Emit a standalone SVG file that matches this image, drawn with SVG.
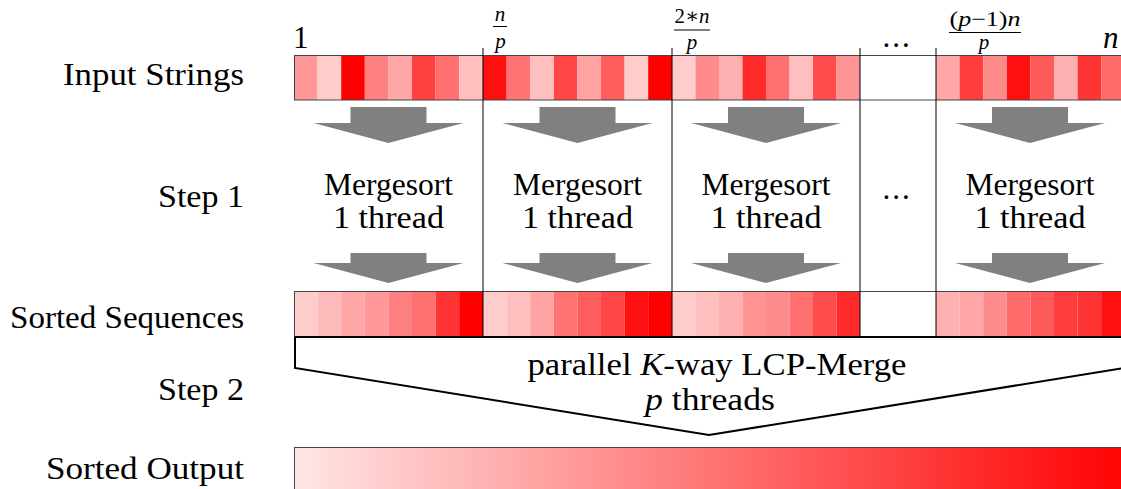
<svg xmlns="http://www.w3.org/2000/svg" width="1121" height="489" viewBox="0 0 1121 489">
<defs>
<style>
.lbl{font-family:'Liberation Serif','DejaVu Serif',serif;font-size:31px;fill:#000}
.mid{text-anchor:middle}
.end{text-anchor:end}
.it{font-style:italic}
.frac{font-family:'Liberation Serif','DejaVu Serif',serif;fill:#000;text-anchor:middle}
.sep{stroke:#000;stroke-width:1;fill:none}
.box{fill:none;stroke:#444;stroke-width:1}
.arr{fill:#808080}
</style>
<linearGradient id="grad" x1="0" y1="0" x2="1" y2="0">
<stop offset="0" stop-color="#ffe6e6"/>
<stop offset="1" stop-color="#ff0000"/>
</linearGradient>
<polygon id="arrTop" class="arr" points="-38,107 38,107 38,123 75,123 0,143 -75,123 -38,123"/>
<polygon id="arrBot" class="arr" points="-38,253 38,253 38,263 75,263 0,283 -75,263 -38,263"/>
</defs>
<rect width="1121" height="489" fill="#fff"/>

<g id="row-labels">
<text class="lbl end" x="244" y="85" textLength="181" lengthAdjust="spacingAndGlyphs">Input Strings</text>
<text class="lbl end" x="244" y="207" textLength="86" lengthAdjust="spacingAndGlyphs">Step 1</text>
<text class="lbl end" x="244" y="328" textLength="234" lengthAdjust="spacingAndGlyphs">Sorted Sequences</text>
<text class="lbl end" x="244" y="400" textLength="86" lengthAdjust="spacingAndGlyphs">Step 2</text>
<text class="lbl end" x="244" y="479" textLength="198" lengthAdjust="spacingAndGlyphs">Sorted Output</text>
</g>

<g id="index-labels">
<text class="lbl" x="293" y="48">1</text>
<g id="frac-n-p">
<text class="frac it" x="500" y="21" font-size="21">n</text>
<line x1="493" y1="26.5" x2="507" y2="26.5" stroke="#000" stroke-width="1"/>
<text class="frac it" x="500.5" y="48" font-size="21">p</text>
</g>
<g id="frac-2n-p">
<text class="frac" x="692" y="23" font-size="21" textLength="35" lengthAdjust="spacingAndGlyphs">2∗<tspan class="it">n</tspan></text>
<line x1="674" y1="30" x2="710" y2="30" stroke="#000" stroke-width="1"/>
<text class="frac it" x="692" y="49" font-size="21">p</text>
</g>
<text class="lbl mid" x="897" y="47" letter-spacing="2">...</text>
<g id="frac-p1n-p">
<text class="frac" x="985" y="26" font-size="21" textLength="71" lengthAdjust="spacingAndGlyphs">(<tspan class="it">p</tspan>−1)<tspan class="it">n</tspan></text>
<line x1="949" y1="32.5" x2="1021" y2="32.5" stroke="#000" stroke-width="1"/>
<text class="frac it" x="984" y="49" font-size="21">p</text>
</g>
<text class="lbl it" x="1103" y="48">n</text>
</g>

<g id="input-strings">
<g id="in-seg1">
<rect x="294" y="55" width="23.6" height="45" fill="#ff9999"/>
<rect x="317.6" y="55" width="23.6" height="45" fill="#ffcccc"/>
<rect x="341.2" y="55" width="23.6" height="45" fill="#ff0000"/>
<rect x="364.8" y="55" width="23.6" height="45" fill="#ff8080"/>
<rect x="388.4" y="55" width="23.6" height="45" fill="#ffa6a6"/>
<rect x="412" y="55" width="23.6" height="45" fill="#ff4040"/>
<rect x="435.6" y="55" width="23.6" height="45" fill="#ff7070"/>
<rect x="459.2" y="55" width="23.8" height="45" fill="#ffbfbf"/>
</g>
<g id="in-seg2">
<rect x="483" y="55" width="23.6" height="45" fill="#ff1010"/>
<rect x="506.6" y="55" width="23.6" height="45" fill="#ff7373"/>
<rect x="530.2" y="55" width="23.6" height="45" fill="#ffbfbf"/>
<rect x="553.8" y="55" width="23.6" height="45" fill="#ff4545"/>
<rect x="577.4" y="55" width="23.6" height="45" fill="#ffa3a3"/>
<rect x="601" y="55" width="23.6" height="45" fill="#ff5c5c"/>
<rect x="624.6" y="55" width="23.6" height="45" fill="#ffcccc"/>
<rect x="648.2" y="55" width="23.8" height="45" fill="#ff0000"/>
</g>
<g id="in-seg3">
<rect x="672" y="55" width="23.5" height="45" fill="#ffcccc"/>
<rect x="695.5" y="55" width="23.5" height="45" fill="#ff8c8c"/>
<rect x="719" y="55" width="23.5" height="45" fill="#ffb0b0"/>
<rect x="742.5" y="55" width="23.5" height="45" fill="#ff2b2b"/>
<rect x="766" y="55" width="23.5" height="45" fill="#ff7070"/>
<rect x="789.5" y="55" width="23.5" height="45" fill="#ffbfbf"/>
<rect x="813" y="55" width="23.5" height="45" fill="#ff4d4d"/>
<rect x="836.5" y="55" width="23.5" height="45" fill="#ff9494"/>
</g>
<g id="in-seg4">
<rect x="936" y="55" width="23.6" height="45" fill="#ffa6a6"/>
<rect x="959.6" y="55" width="23.6" height="45" fill="#ff3d3d"/>
<rect x="983.2" y="55" width="23.6" height="45" fill="#ff8a8a"/>
<rect x="1006.8" y="55" width="23.6" height="45" fill="#ff1010"/>
<rect x="1030.4" y="55" width="23.6" height="45" fill="#ff5a5a"/>
<rect x="1054" y="55" width="23.6" height="45" fill="#ffb0b0"/>
<rect x="1077.6" y="55" width="23.6" height="45" fill="#ff3535"/>
<rect x="1101.2" y="55" width="23.6" height="45" fill="#ff6a6a"/>
</g>
<rect class="box" x="294.5" y="55.5" width="840" height="44.5"/>
</g>

<g id="sorted-sequences">
<g id="ss-seg1">
<rect x="294" y="291" width="23.6" height="45" fill="#ffcccc"/>
<rect x="317.6" y="291" width="23.6" height="45" fill="#ffbbbb"/>
<rect x="341.2" y="291" width="23.6" height="45" fill="#ffa6a6"/>
<rect x="364.8" y="291" width="23.6" height="45" fill="#ff9999"/>
<rect x="388.4" y="291" width="23.6" height="45" fill="#ff8080"/>
<rect x="412" y="291" width="23.6" height="45" fill="#ff7070"/>
<rect x="435.6" y="291" width="23.6" height="45" fill="#ff3535"/>
<rect x="459.2" y="291" width="23.8" height="45" fill="#ff0000"/>
</g>
<g id="ss-seg2">
<rect x="483" y="291" width="23.6" height="45" fill="#ffcccc"/>
<rect x="506.6" y="291" width="23.6" height="45" fill="#ffbfbf"/>
<rect x="530.2" y="291" width="23.6" height="45" fill="#ffa3a3"/>
<rect x="553.8" y="291" width="23.6" height="45" fill="#ff7373"/>
<rect x="577.4" y="291" width="23.6" height="45" fill="#ff5c5c"/>
<rect x="601" y="291" width="23.6" height="45" fill="#ff4545"/>
<rect x="624.6" y="291" width="23.6" height="45" fill="#ff1010"/>
<rect x="648.2" y="291" width="23.8" height="45" fill="#ff0000"/>
</g>
<g id="ss-seg3">
<rect x="672" y="291" width="23.5" height="45" fill="#ffcccc"/>
<rect x="695.5" y="291" width="23.5" height="45" fill="#ffbfbf"/>
<rect x="719" y="291" width="23.5" height="45" fill="#ffb0b0"/>
<rect x="742.5" y="291" width="23.5" height="45" fill="#ff9494"/>
<rect x="766" y="291" width="23.5" height="45" fill="#ff8c8c"/>
<rect x="789.5" y="291" width="23.5" height="45" fill="#ff7070"/>
<rect x="813" y="291" width="23.5" height="45" fill="#ff4d4d"/>
<rect x="836.5" y="291" width="23.5" height="45" fill="#ff2b2b"/>
</g>
<g id="ss-seg4">
<rect x="936" y="291" width="23.6" height="45" fill="#ffb0b0"/>
<rect x="959.6" y="291" width="23.6" height="45" fill="#ffa6a6"/>
<rect x="983.2" y="291" width="23.6" height="45" fill="#ff8c8c"/>
<rect x="1006.8" y="291" width="23.6" height="45" fill="#ff6a6a"/>
<rect x="1030.4" y="291" width="23.6" height="45" fill="#ff5a5a"/>
<rect x="1054" y="291" width="23.6" height="45" fill="#ff3d3d"/>
<rect x="1077.6" y="291" width="23.6" height="45" fill="#ff3535"/>
<rect x="1101.2" y="291" width="23.6" height="45" fill="#ff1010"/>
</g>
<rect class="box" x="294.5" y="291.5" width="840" height="45"/>
</g>

<g id="separators">
<line class="sep" x1="483" y1="48" x2="483" y2="336"/>
<line class="sep" x1="672" y1="48" x2="672" y2="336"/>
<line class="sep" x1="860" y1="48" x2="860" y2="336"/>
<line class="sep" x1="936" y1="48" x2="936" y2="336"/>
</g>

<g id="step1-nodes">
<g id="mergesort-1">
<text class="lbl mid" x="388.5" y="195" textLength="129" lengthAdjust="spacingAndGlyphs">Mergesort</text>
<text class="lbl mid" x="388.5" y="228" textLength="111" lengthAdjust="spacingAndGlyphs">1 thread</text>
</g>
<g id="mergesort-2">
<text class="lbl mid" x="577.5" y="195" textLength="129" lengthAdjust="spacingAndGlyphs">Mergesort</text>
<text class="lbl mid" x="577.5" y="228" textLength="111" lengthAdjust="spacingAndGlyphs">1 thread</text>
</g>
<g id="mergesort-3">
<text class="lbl mid" x="766" y="195" textLength="129" lengthAdjust="spacingAndGlyphs">Mergesort</text>
<text class="lbl mid" x="766" y="228" textLength="111" lengthAdjust="spacingAndGlyphs">1 thread</text>
</g>
<g id="mergesort-dots">
<text class="lbl mid" x="897" y="199" letter-spacing="2">...</text>
</g>
<g id="mergesort-p">
<text class="lbl mid" x="1030" y="195" textLength="129" lengthAdjust="spacingAndGlyphs">Mergesort</text>
<text class="lbl mid" x="1030" y="228" textLength="111" lengthAdjust="spacingAndGlyphs">1 thread</text>
</g>
</g>

<g id="connectors">
<use href="#arrTop" x="388.5"/>
<use href="#arrTop" x="577.5"/>
<use href="#arrTop" x="766"/>
<use href="#arrTop" x="1030"/>
<use href="#arrBot" x="388.5"/>
<use href="#arrBot" x="577.5"/>
<use href="#arrBot" x="766"/>
<use href="#arrBot" x="1030"/>
<path d="M295,337 L1124,337 M295,337 L295,368 L709,435 L1124,368 L1124,337" fill="none" stroke="#000" stroke-width="2" stroke-linejoin="miter"/>
</g>

<g id="merge-node">
<text class="lbl mid" x="717" y="375" textLength="379" lengthAdjust="spacingAndGlyphs">parallel <tspan class="it">K</tspan>-way LCP-Merge</text>
<text class="lbl mid" x="710" y="410" textLength="130" lengthAdjust="spacingAndGlyphs"><tspan class="it">p</tspan> threads</text>
</g>

<g id="sorted-output">
<rect x="294.5" y="447.5" width="840" height="50" fill="url(#grad)" stroke="#444" stroke-width="1"/>
</g>
</svg>
